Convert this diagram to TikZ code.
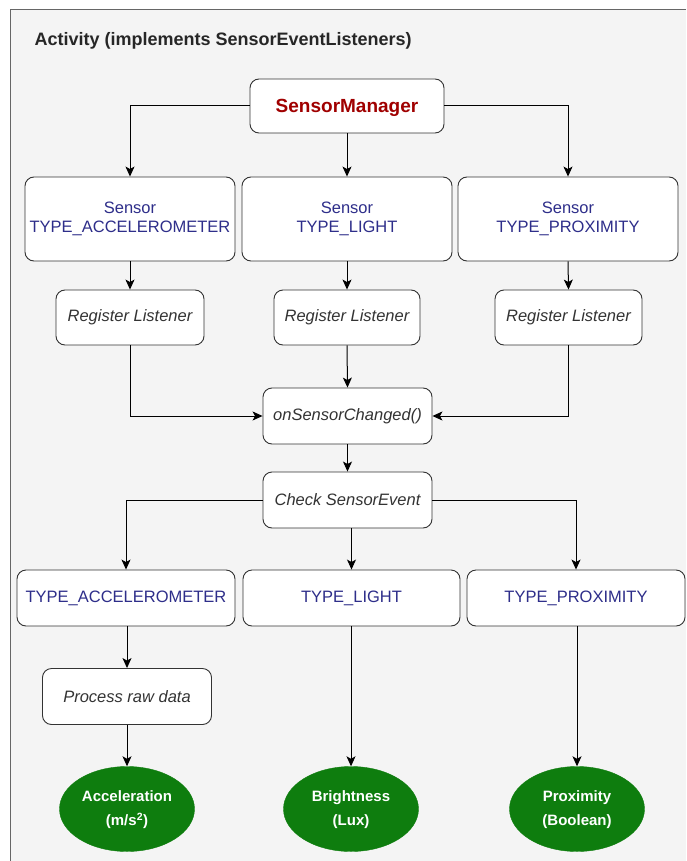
\documentclass[tikz,border=0pt]{standalone}
\usepackage{fontspec}
\setmainfont{Liberation Sans}
\usetikzlibrary{arrows.meta,shapes.geometric}
\definecolor{frameFill}{HTML}{F4F4F4}
\definecolor{frameLine}{HTML}{666666}
\definecolor{boxLine}{HTML}{333333}
\definecolor{navyText}{HTML}{2E2E8A}
\definecolor{darkRed}{HTML}{A00000}
\definecolor{grayText}{HTML}{333333}
\definecolor{ellGreen}{HTML}{0E7D0E}
\tikzset{
  box/.style={draw=boxLine, fill=white, rounded corners=9, line width=0.9, align=center, inner sep=0pt},
  sensorbox/.style={box, minimum height=84, text=navyText, font=\fontsize{16.5}{19.5}\selectfont},
  typebox/.style={box, minimum height=56, text=navyText, font=\fontsize{16.5}{19}\selectfont},
  stepbox/.style={box, minimum height=56, text=grayText, font=\itshape\fontsize{16.5}{19}\selectfont},
  result/.style={ellipse, draw=ellGreen, fill=ellGreen, text=white, minimum width=135, minimum height=85, inner sep=0pt, align=center, font=\bfseries\fontsize{15}{24}\selectfont},
  arr/.style={draw=black, line width=1, -{Stealth[length=10pt,width=9pt,inset=2.5pt]}},
}
\begin{document}
\begin{tikzpicture}[x=1pt,y=-1pt]
\useasboundingbox (0,0) rectangle (686,861);
\clip (0,0) rectangle (686,861);
\fill[white] (0,0) rectangle (686,861);
\fill[frameFill] (10.5,9.5) rectangle (686,861);
\draw[draw=frameLine, line width=1.3] (10.5,861) -- (10.5,9.5) -- (686,9.5);
\node[anchor=west, font=\bfseries\fontsize{18}{21}\selectfont, text=black!85] (title) at (31,41) {Activity (implements SensorEventListeners)};

\node[box, minimum width=194, minimum height=54, text=darkRed, font=\bfseries\fontsize{19}{22}\selectfont, text depth=0pt] (sm) at (347,106) {SensorManager};

\node[sensorbox, minimum width=210] (s1) at (130,219) {\strut Sensor\\TYPE\_ACCELEROMETER\strut};
\node[sensorbox, minimum width=210] (s2) at (347,219) {\strut Sensor\\TYPE\_LIGHT\strut};
\node[sensorbox, minimum width=220] (s3) at (568,219) {\strut Sensor\\TYPE\_PROXIMITY\strut};

\node[stepbox, minimum width=148, minimum height=55] (r1) at (130,317.5) {Register Listener};
\node[stepbox, minimum width=146, minimum height=55] (r2) at (347,317.5) {Register Listener};
\node[stepbox, minimum width=147, minimum height=55] (r3) at (568.5,317.5) {Register Listener};

\node[stepbox, minimum width=169] (osc) at (347.5,416) {onSensorChanged()};
\node[stepbox, minimum width=169] (chk) at (347.5,500) {Check SensorEvent};

\node[typebox, minimum width=218] (t1) at (126,598) {TYPE\_ACCELEROMETER};
\node[typebox, minimum width=217] (t2) at (351.5,598) {TYPE\_LIGHT};
\node[typebox, minimum width=218] (t3) at (576,598) {TYPE\_PROXIMITY};

\node[stepbox, minimum width=169] (proc) at (127,696.5) {Process raw data};

\node[result] (e1) at (127,809) {\strut Acceleration\\(m/s\textsuperscript{2})\strut};
\node[result] (e2) at (351,809) {\strut Brightness\\(Lux)\strut};
\node[result] (e3) at (577,809) {\strut Proximity\\(Boolean)\strut};

\draw[arr] (sm.west) -| (s1.north);
\draw[arr] (sm.south) -- (s2.north);
\draw[arr] (sm.east) -| (s3.north);

\draw[arr] (s1.south) -- (r1.north);
\draw[arr] (s2.south) -- (r2.north);
\draw[arr] (s3.south) -- (r3.north);

\draw[arr] (r1.south) |- (osc.west);
\draw[arr] (r2.south) -- (osc.north);
\draw[arr] (r3.south) |- (osc.east);

\draw[arr] (osc.south) -- (chk.north);

\draw[arr] (chk.west) -| (t1.north);
\draw[arr] (chk.south -| t2.north) -- (t2.north);
\draw[arr] (chk.east) -| (t3.north);

\draw[arr] (t1.south -| proc.north) -- (proc.north);
\draw[arr] (proc.south) -- (e1.north);
\draw[arr] (t2.south -| e2.north) -- (e2.north);
\draw[arr] (t3.south -| e3.north) -- (e3.north);
\end{tikzpicture}
\end{document}
